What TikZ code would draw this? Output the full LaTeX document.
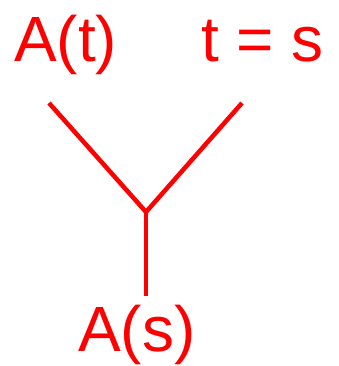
\documentclass[tikz,border=0pt]{standalone}
\usepackage{fontspec}
\setmainfont{Liberation Sans}
\definecolor{lred}{RGB}{255,0,0}
\begin{document}
\begin{tikzpicture}[x=1pt,y=-1pt,
  lbl/.style={text=lred,font=\fontsize{64}{64}\selectfont,inner sep=0pt,anchor=base west},
  edge/.style={draw=lred,line width=4.5pt}]
\useasboundingbox (0,0) rectangle (338,366);
\node[lbl] (at) at (14,62) {A(t)};
\node[lbl] (ts) at (201,62) {t = s};
\node[lbl] (as) at (78,351) {A(s)};
\coordinate (l) at (49,103);
\coordinate (r) at (242,103);
\coordinate (j) at (146,212);
\coordinate (b) at (146,296);
\draw[edge] (l) -- (j) -- (r);
\draw[edge] (j) -- (b);
\end{tikzpicture}
\end{document}
